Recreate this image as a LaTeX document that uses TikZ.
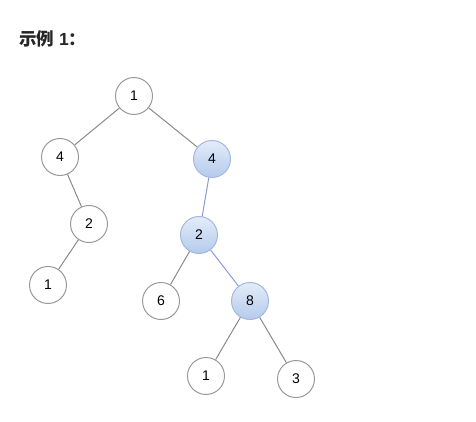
\documentclass[tikz,border=0pt]{standalone}
\usepackage{fontspec}
\setmainfont{Liberation Sans}
\newfontfamily\cjk{Noto Sans CJK SC}
\definecolor{edgegray}{HTML}{8A8A8A}
\definecolor{nodegray}{HTML}{9A9A9A}
\definecolor{blueedge}{HTML}{8C9AD8}
\definecolor{blueborder}{HTML}{A4B8DE}
\definecolor{bluetop}{HTML}{E4ECF9}
\definecolor{bluebot}{HTML}{B4CAEC}
\tikzset{
  tn/.style={circle, draw=nodegray, line width=1pt, fill=white, minimum size=37pt, inner sep=0pt, font=\fontsize{14}{14}\selectfont},
  bn/.style={tn, draw=blueborder, top color=bluetop, bottom color=bluebot},
  ge/.style={draw=edgegray, line width=1pt},
  be/.style={draw=blueedge, line width=1pt},
}
\begin{document}
\begin{tikzpicture}[x=1pt,y=-1pt]
\useasboundingbox (0,0) rectangle (476,422);
\node[anchor=west, inner sep=0pt, font=\fontsize{17.5}{17.5}\selectfont\bfseries, text=black!85] (title) at (19,38.5) {{\cjk 示例} 1{\cjk ：}};
\node[tn] (r) at (134,96) {1};
\node[tn] (a) at (60,157) {4};
\node[bn] (b) at (212,159) {4};
\node[tn] (c) at (89,224) {2};
\node[bn] (d) at (199,235) {2};
\node[tn] (e) at (48,285) {1};
\node[tn] (f) at (161,301) {6};
\node[bn] (g) at (250,301) {8};
\node[tn] (h) at (206,376) {1};
\node[tn] (i) at (296,379) {3};
\draw[ge] (r) -- (a);
\draw[ge] (r) -- (b);
\draw[ge] (a) -- (c);
\draw[ge] (c) -- (e);
\draw[be] (b) -- (d);
\draw[ge] (d) -- (f);
\draw[be] (d) -- (g);
\draw[ge] (g) -- (h);
\draw[ge] (g) -- (i);
\end{tikzpicture}
\end{document}
